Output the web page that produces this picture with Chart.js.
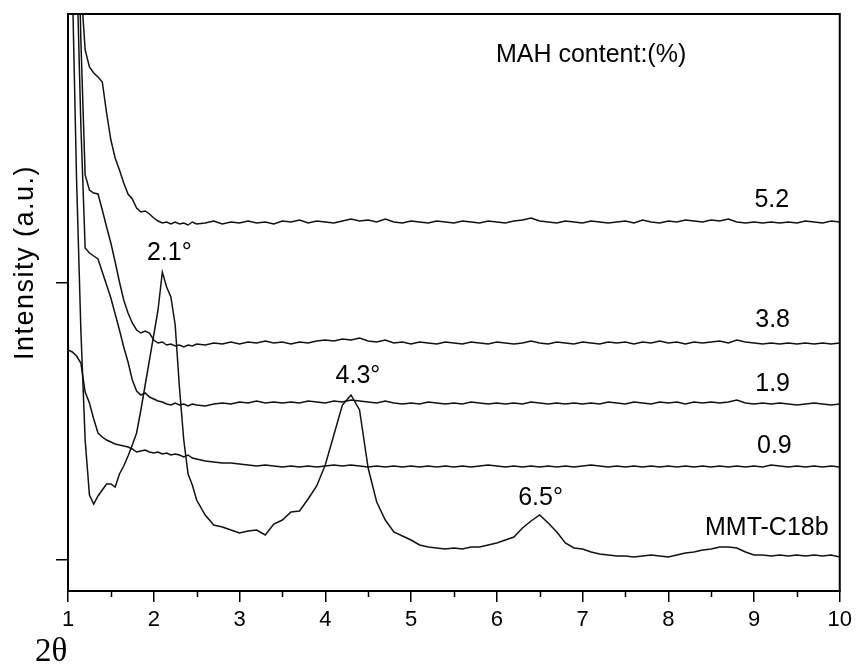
<!DOCTYPE html>
<html>
<head>
<meta charset="utf-8">
<script src="https://cdn.jsdelivr.net/npm/chart.js@4.4.1/dist/chart.umd.min.js"></script>
<style>
  html, body { margin: 0; padding: 0; background: #fff; }
  canvas { display: block; }
</style>
</head>
<body>
<canvas id="xrd" width="857" height="664"></canvas>
<script>
// 2theta (deg) -- finer steps where the curves are steep
const twoTheta = [1.00, 1.05, 1.10, 1.15, 1.20, 1.25, 1.30, 1.35, 1.40, 1.45, 1.50, 1.55, 1.60, 1.65, 1.70, 1.75, 1.80, 1.85, 1.90, 1.95,
  2.00, 2.05, 2.10, 2.15, 2.20, 2.25, 2.30, 2.35, 2.40, 2.45, 2.50,
  2.6, 2.7, 2.8, 2.9, 3.0, 3.1, 3.2, 3.3, 3.4, 3.5, 3.6, 3.7, 3.8, 3.9, 4.0, 4.1, 4.2, 4.3, 4.4, 4.5, 4.6, 4.7, 4.8, 4.9,
  5.0, 5.1, 5.2, 5.3, 5.4, 5.5, 5.6, 5.7, 5.8, 5.9, 6.0, 6.1, 6.2, 6.3, 6.4, 6.5, 6.6, 6.7, 6.8, 6.9,
  7.0, 7.1, 7.2, 7.3, 7.4, 7.5, 7.6, 7.7, 7.8, 7.9, 8.0, 8.1, 8.2, 8.3, 8.4, 8.5, 8.6, 8.7, 8.8, 8.9,
  9.0, 9.1, 9.2, 9.3, 9.4, 9.5, 9.6, 9.7, 9.8, 9.9, 10.0];

// intensity, arbitrary units (curves are stacked with offsets, as in the figure)
const mah52 = [620, 610, 590, 575, 510, 493, 487, 483, 478, 447, 420, 402, 390, 377, 366, 361, 352, 348, 349, 346,
  342, 339, 337, 338, 336, 338, 336, 337, 335, 338, 336,
  337, 339, 336, 338, 337, 339, 337, 338, 336, 339, 338, 340, 337, 339, 338, 337, 339, 341, 339, 340, 338, 341, 338, 337,
  339, 338, 337, 339, 338, 337, 339, 338, 337, 339, 338, 337, 339, 340, 342, 339, 338, 337, 339, 338,
  337, 339, 338, 337, 338, 339, 337, 340, 338, 337, 339, 338, 340, 339, 338, 340, 339, 341, 338, 337,
  338, 337, 338, 337, 338, 337, 339, 338, 337, 339, 338];

const mah38 = [760, 748, 710, 520, 385, 370, 367, 366, 350, 333, 317, 298, 278, 260, 247, 237, 230, 227, 229, 227,
  220, 217, 218, 215, 216, 214, 215, 213, 215, 214, 216,
  215, 217, 216, 218, 216, 218, 217, 219, 217, 218, 216, 218, 217, 219, 220, 219, 221, 220, 222, 219, 218, 220, 217, 218,
  216, 218, 217, 216, 218, 217, 216, 218, 217, 216, 218, 217, 216, 217, 219, 217, 216, 218, 217, 216,
  218, 217, 216, 218, 217, 218, 216, 218, 217, 219, 217, 218, 216, 218, 217, 218, 219, 217, 220, 218,
  217, 216, 217, 216, 217, 216, 217, 216, 217, 216, 217];

const mah19 = [720, 700, 600, 435, 312, 307, 304, 301, 288, 275, 262, 246, 230, 213, 198, 180, 169, 165, 167, 163,
  161, 159, 158, 156, 155, 157, 155, 156, 154, 156, 155,
  154, 156, 157, 156, 158, 157, 159, 157, 158, 157, 158, 157, 159, 158, 157, 159, 158, 160, 159, 158, 157, 159, 157, 156,
  157, 156, 158, 157, 156, 157, 156, 158, 157, 156, 157, 156, 157, 156, 158, 157, 156, 157, 156, 157,
  156, 157, 156, 158, 157, 156, 158, 157, 156, 158, 157, 158, 156, 158, 157, 158, 157, 158, 160, 157,
  156, 157, 156, 157, 156, 155, 156, 157, 156, 155, 156];

const mah09 = [210, 208, 204, 197, 168, 157, 141, 127, 123, 120, 118, 116, 115, 114, 113, 111, 108, 109, 110, 108,
  107, 108, 106, 107, 105, 106, 105, 103, 105, 102, 101,
  99, 98, 97, 97, 96, 95, 94, 95, 94, 93, 94, 93, 94, 93, 94, 95, 94, 95, 94, 93, 94, 93, 94, 93,
  94, 93, 94, 93, 94, 93, 94, 93, 94, 95, 94, 93, 94, 93, 94, 93, 94, 93, 94, 93,
  94, 95, 94, 93, 94, 93, 94, 93, 94, 93, 94, 93, 94, 93, 94, 93, 94, 93, 94, 93,
  94, 93, 95, 94, 93, 94, 93, 94, 93, 94, 93];

const mmtC18b = [860, 580, 380, 230, 120, 65, 56, 64, 70, 76, 76, 73, 86, 94, 104, 115, 127, 150, 175, 200,
  225, 250, 288, 273, 263, 235, 172, 120, 86, 75, 60,
  45, 35, 33, 30, 27, 29, 30, 25, 36, 40, 48, 49, 61, 74, 95, 125, 155, 165, 150, 92, 58, 40, 28, 24,
  20, 15, 13, 12, 11, 12, 11, 13, 13, 15, 17, 20, 23, 32, 39, 45, 37, 28, 17, 12,
  11, 8, 6, 5, 4, 4, 3, 4, 5, 4, 3, 5, 7, 8, 10, 11, 13, 13, 12, 8,
  5, 5, 4, 5, 4, 5, 4, 5, 4, 5, 3];

const seriesNames = ['5.2', '3.8', '1.9', '0.9', 'MMT-C18b'];
const peakNames = ['2.1°', '4.3°', '6.5°'];
const xTicks = [1, 2, 3, 4, 5, 6, 7, 8, 9, 10];
const xMinorTicks = [1.5, 2.5, 3.5, 4.5, 5.5, 6.5, 7.5, 8.5, 9.5];
const yTicks = [0, 277];

// where the text goes, in data units
const nameSpots = [[9.41, 353], [9.42, 233], [9.42, 169], [9.44, 107], [9.87, 25]];
const peakSpots = [[1.92, 300], [4.12, 177], [6.25, 55]];

const series = [mah52, mah38, mah19, mah09, mmtC18b];

const textPlugin = {
    id: 'textPlugin',
    afterDraw(chart) {
        const { ctx, chartArea: a } = chart;
        const x = chart.scales.x, y = chart.scales.y;
        ctx.save();

        // frame
        ctx.strokeStyle = '#000';
        ctx.lineWidth = 2;
        ctx.strokeRect(a.left, a.top, a.right - a.left, a.bottom - a.top);

        // minor ticks on the 2theta axis
        ctx.lineWidth = 1.5;
        xMinorTicks.forEach(v => {
            const px = Math.round(x.getPixelForValue(v)) + 0.5;
            ctx.beginPath();
            ctx.moveTo(px, a.bottom);
            ctx.lineTo(px, a.bottom + 6);
            ctx.stroke();
        });

        ctx.fillStyle = '#000';
        ctx.textBaseline = 'alphabetic';
        ctx.font = '25px "Liberation Sans", Arial, sans-serif';

        ctx.textAlign = 'left';
        ctx.fillText('MAH content:(%)', x.getPixelForValue(5.99), y.getPixelForValue(498));

        ctx.textAlign = 'right';
        seriesNames.forEach((n, i) => {
            ctx.fillText(n, x.getPixelForValue(nameSpots[i][0]), y.getPixelForValue(nameSpots[i][1]));
        });

        ctx.textAlign = 'left';
        peakNames.forEach((n, i) => {
            ctx.fillText(n, x.getPixelForValue(peakSpots[i][0]), y.getPixelForValue(peakSpots[i][1]));
        });

        // axis titles
        ctx.font = '33px "Liberation Serif", "Times New Roman", serif';
        ctx.fillText('2θ', a.left - 33, a.bottom + 70);

        ctx.translate(26, (a.top + a.bottom) / 2 - 40);
        ctx.rotate(-Math.PI / 2);
        ctx.font = '27px "Liberation Sans", Arial, sans-serif';
        ctx.letterSpacing = '1.5px';
        ctx.textAlign = 'center';
        ctx.textBaseline = 'middle';
        ctx.fillText('Intensity (a.u.)', 0, 0);

        ctx.restore();
    }
};

const ctx = document.getElementById('xrd').getContext('2d');

new Chart(ctx, {
    type: 'line',
    data: {
        labels: twoTheta,
        datasets: series.map((s, i) => ({
            label: seriesNames[i],
            data: s.map((v, k) => ({ x: twoTheta[k], y: v })),
            borderColor: '#111',
            borderWidth: 1.5,
            pointRadius: 0,
            tension: 0,
            fill: false
        }))
    },
    options: {
        responsive: false,
        devicePixelRatio: 1,
        animation: false,
        layout: { padding: { left: 0, right: 14, top: 14, bottom: 0 } },
        plugins: {
            legend: { display: false },
            tooltip: { enabled: false }
        },
        scales: {
            x: {
                type: 'linear',
                min: 1,
                max: 10,
                afterBuildTicks: s => { s.ticks = xTicks.map(v => ({ value: v })); },
                ticks: {
                    color: '#000',
                    padding: 5,
                    maxRotation: 0,
                    font: { family: '"Liberation Sans", Arial, sans-serif', size: 22 }
                },
                grid: { drawOnChartArea: false, color: '#000', lineWidth: 1.5, tickLength: 11 },
                border: { color: '#000', width: 2 },
                afterFit: s => { s.height = 73; }
            },
            y: {
                type: 'linear',
                min: -31,
                max: 546,
                afterBuildTicks: s => { s.ticks = yTicks.map(v => ({ value: v })); },
                ticks: { callback: () => '' },
                grid: { drawOnChartArea: false, color: '#000', lineWidth: 1.5, tickLength: 12 },
                border: { color: '#000', width: 2 },
                afterFit: s => { s.width = 68; }
            }
        }
    },
    plugins: [textPlugin]
});
</script>
</body>
</html>
